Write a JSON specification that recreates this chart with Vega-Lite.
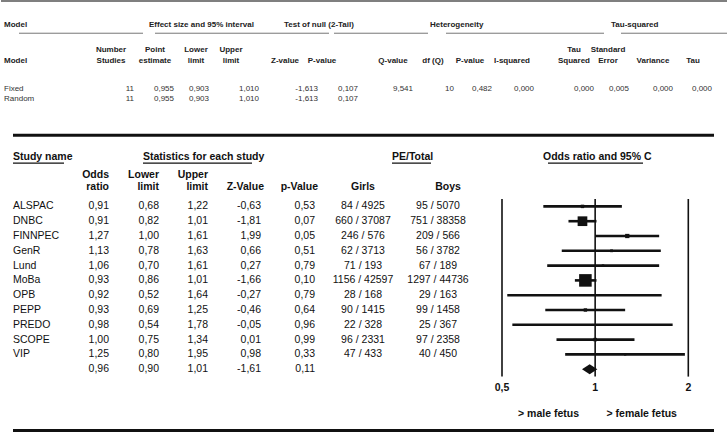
{
  "$schema": "https://vega.github.io/schema/vega-lite/v6.json",
  "padding": 0,
  "spacing": 0,
  "bounds": "flush",
  "config": {
    "view": {"stroke": null},
    "axis": {"disable": true},
    "text": {"font": "Liberation Sans"},
    "locale": {"number": {"decimal": ",", "thousands": ".", "grouping": [3], "currency": ["", ""], "minus": "-"}}
  },
  "datasets": {
    "overall": [
      {"model": "Fixed", "n": 11, "pe": 0.955, "ll": 0.903, "ul": 1.010, "z": -1.613, "p": 0.107, "q": 9.541, "df": 10, "pq": 0.482, "i2": 0.000, "tau2": 0.000, "se": 0.005, "var": 0.000, "tau": 0.000},
      {"model": "Random", "n": 11, "pe": 0.955, "ll": 0.903, "ul": 1.010, "z": -1.613, "p": 0.107}
    ],
    "overallCols": [
      {"key": "model", "c": 0, "l1": "", "l2": "Model"},
      {"key": "n", "c": 1, "l1": "Number", "l2": "Studies"},
      {"key": "pe", "c": 2, "l1": "Point", "l2": "estimate"},
      {"key": "ll", "c": 3, "l1": "Lower", "l2": "limit"},
      {"key": "ul", "c": 4, "l1": "Upper", "l2": "limit"},
      {"key": "z", "c": 5, "l1": "", "l2": "Z-value"},
      {"key": "p", "c": 6, "l1": "", "l2": "P-value"},
      {"key": "q", "c": 7, "l1": "", "l2": "Q-value"},
      {"key": "df", "c": 8, "l1": "", "l2": "df (Q)"},
      {"key": "pq", "c": 9, "l1": "", "l2": "P-value"},
      {"key": "i2", "c": 10, "l1": "", "l2": "I-squared"},
      {"key": "tau2", "c": 11, "l1": "Tau", "l2": "Squared"},
      {"key": "se", "c": 12, "l1": "Standard", "l2": "Error"},
      {"key": "var", "c": 13, "l1": "", "l2": "Variance"},
      {"key": "tau", "c": 14, "l1": "", "l2": "Tau"}
    ],
    "overallGroups": [
      {"label": "Model", "g": 0, "from": 0, "to": 1},
      {"label": "Effect size and 95% interval", "g": 1, "from": 2, "to": 3},
      {"label": "Test of null (2-Tail)", "g": 2, "from": 4, "to": 5},
      {"label": "Heterogeneity", "g": 3, "from": 6, "to": 7},
      {"label": "Tau-squared", "g": 4, "from": 8, "to": 9}
    ],
    "studies": [
      {"study": "ALSPAC", "type": "study", "or": 0.91, "ll": 0.68, "ul": 1.22, "z": -0.63, "p": 0.53, "girls": "84 / 4925", "boys": "95 / 5070", "weight": 3.6},
      {"study": "DNBC", "type": "study", "or": 0.91, "ll": 0.82, "ul": 1.01, "z": -1.81, "p": 0.07, "girls": "660 / 37087", "boys": "751 / 38358", "weight": 28.5},
      {"study": "FINNPEC", "type": "study", "or": 1.27, "ll": 1.00, "ul": 1.61, "z": 1.99, "p": 0.05, "girls": "246 / 576", "boys": "209 / 566", "weight": 5.5},
      {"study": "GenR", "type": "study", "or": 1.13, "ll": 0.78, "ul": 1.63, "z": 0.66, "p": 0.51, "girls": "62 / 3713", "boys": "56 / 3782", "weight": 2.3},
      {"study": "Lund", "type": "study", "or": 1.06, "ll": 0.70, "ul": 1.61, "z": 0.27, "p": 0.79, "girls": "71 / 193", "boys": "67 / 189", "weight": 1.8},
      {"study": "MoBa", "type": "study", "or": 0.93, "ll": 0.86, "ul": 1.01, "z": -1.66, "p": 0.10, "girls": "1156 / 42597", "boys": "1297 / 44736", "weight": 47.8},
      {"study": "OPB", "type": "study", "or": 0.92, "ll": 0.52, "ul": 1.64, "z": -0.27, "p": 0.79, "girls": "28 / 168", "boys": "29 / 163", "weight": 0.9},
      {"study": "PEPP", "type": "study", "or": 0.93, "ll": 0.69, "ul": 1.25, "z": -0.46, "p": 0.64, "girls": "90 / 1415", "boys": "99 / 1458", "weight": 3.5},
      {"study": "PREDO", "type": "study", "or": 0.98, "ll": 0.54, "ul": 1.78, "z": -0.05, "p": 0.96, "girls": "22 / 328", "boys": "25 / 367", "weight": 0.9},
      {"study": "SCOPE", "type": "study", "or": 1.00, "ll": 0.75, "ul": 1.34, "z": 0.01, "p": 0.99, "girls": "96 / 2331", "boys": "97 / 2358", "weight": 3.7},
      {"study": "VIP", "type": "study", "or": 1.25, "ll": 0.80, "ul": 1.95, "z": 0.98, "p": 0.33, "girls": "47 / 433", "boys": "40 / 450", "weight": 1.6},
      {"study": "Overall", "type": "pooled", "or": 0.96, "ll": 0.90, "ul": 1.01, "z": -1.61, "p": 0.11}
    ],
    "studyCols": [
      {"key": "or", "c": 1, "l1": "Odds", "l2": "ratio"},
      {"key": "ll", "c": 2, "l1": "Lower", "l2": "limit"},
      {"key": "ul", "c": 3, "l1": "Upper", "l2": "limit"},
      {"key": "z", "c": 4, "l1": "", "l2": "Z-Value"},
      {"key": "p", "c": 5, "l1": "", "l2": "p-Value"},
      {"key": "girls", "c": 6, "l1": "", "l2": "Girls"},
      {"key": "boys", "c": 7, "l1": "", "l2": "Boys"}
    ],
    "studyGroups": [
      {"label": "Study name", "g": 0, "from": 0, "to": 1},
      {"label": "Statistics for each study", "g": 1, "from": 2, "to": 3},
      {"label": "PE/Total", "g": 2, "from": 4, "to": 5},
      {"label": "Odds ratio and 95% C", "g": 3, "from": 6, "to": 7}
    ],
    "refs": [{"v": 0.5}, {"v": 1}, {"v": 2}],
    "sides": [{"label": "> male fetus", "at": 0.7071}, {"label": "> female fetus", "at": 1.4142}]
  },
  "vconcat": [
    {
      "width": 727,
      "height": 124.6,
      "layer": [
        {
          "data": {"values": [{}]},
          "mark": {"type": "rule", "color": "#555555", "strokeWidth": 1.5},
          "encoding": {
            "y": {"datum": "line", "type": "nominal", "bandPosition": 0.1, "scale": {"type": "band", "domain": ["line","a1","group","uline","h1","h2","a6","a7","Fixed","Random","a10","a11"], "paddingInner": 0, "paddingOuter": 0}}
          }
        },
        {
          "layer": [
            {
              "data": {"name": "overall"},
              "mark": {"type": "text", "align": "left", "fontSize": 8, "color": "#333333"},
              "encoding": {
                "x": {"datum": 0, "type": "quantitative", "scale": {"domain": [0,1,2,3,4,5,6,7,8,9,10,11,12,13,14], "range": [3,133,173,208,258,317,357,412,453,491,533,593,628,672,711], "zero": false, "nice": false}},
                "y": {"field": "model", "type": "nominal", "bandPosition": 0.55, "scale": {"type": "band", "domain": ["line","a1","group","uline","h1","h2","a6","a7","Fixed","Random","a10","a11"], "paddingInner": 0, "paddingOuter": 0}},
                "text": {"field": "model"}
              }
            },
            {
              "data": {"name": "overall"},
              "transform": [
                {"fold": ["pe","ll","ul","z","p","q","pq","i2","tau2","se","var","tau"], "as": ["key","value"]},
                {"filter": "isValid(datum.value)"},
                {"lookup": "key", "from": {"data": {"name": "overallCols"}, "key": "key", "fields": ["c"]}}
              ],
              "mark": {"type": "text", "align": "right", "fontSize": 8, "color": "#333333"},
              "encoding": {
                "x": {"field": "c", "type": "quantitative", "scale": {"domain": [0,1,2,3,4,5,6,7,8,9,10,11,12,13,14], "range": [3,133,173,208,258,317,357,412,453,491,533,593,628,672,711], "zero": false, "nice": false}},
                "y": {"field": "model", "type": "nominal", "bandPosition": 0.55, "scale": {"type": "band", "domain": ["line","a1","group","uline","h1","h2","a6","a7","Fixed","Random","a10","a11"], "paddingInner": 0, "paddingOuter": 0}},
                "text": {"field": "value", "type": "quantitative", "format": ".3f"}
              }
            },
            {
              "data": {"name": "overall"},
              "transform": [
                {"fold": ["n","df"], "as": ["key","value"]},
                {"filter": "isValid(datum.value)"},
                {"lookup": "key", "from": {"data": {"name": "overallCols"}, "key": "key", "fields": ["c"]}}
              ],
              "mark": {"type": "text", "align": "right", "fontSize": 8, "color": "#333333"},
              "encoding": {
                "x": {"field": "c", "type": "quantitative", "scale": {"domain": [0,1,2,3,4,5,6,7,8,9,10,11,12,13,14], "range": [3,133,173,208,258,317,357,412,453,491,533,593,628,672,711], "zero": false, "nice": false}},
                "y": {"field": "model", "type": "nominal", "bandPosition": 0.55, "scale": {"type": "band", "domain": ["line","a1","group","uline","h1","h2","a6","a7","Fixed","Random","a10","a11"], "paddingInner": 0, "paddingOuter": 0}},
                "text": {"field": "value", "type": "quantitative", "format": "d"}
              }
            }
          ]
        },
        {
          "data": {"name": "overallCols"},
          "layer": [
            {
              "transform": [{"filter": "datum.l1 != ''"}],
              "mark": {"type": "text", "align": "center", "fontSize": 8, "fontWeight": "bold", "color": "#222222"},
              "encoding": {
                "x": {"field": "c", "type": "quantitative", "scale": {"domain": [0,1,2,3,4,5,6,7,8,9,10,11,12,13,14], "range": [3,110,154,195,230,284,321,392,432,469,511,573,607,652,692], "zero": false, "nice": false}},
                "y": {"datum": "h1", "type": "nominal", "bandPosition": 0.82, "scale": {"type": "band", "domain": ["line","a1","group","uline","h1","h2","a6","a7","Fixed","Random","a10","a11"], "paddingInner": 0, "paddingOuter": 0}},
                "text": {"field": "l1"}
              }
            },
            {
              "transform": [{"filter": "datum.c > 0"}],
              "mark": {"type": "text", "align": "center", "fontSize": 8, "fontWeight": "bold", "color": "#222222"},
              "encoding": {
                "x": {"field": "c", "type": "quantitative", "scale": {"domain": [0,1,2,3,4,5,6,7,8,9,10,11,12,13,14], "range": [3,110,154,195,230,284,321,392,432,469,511,573,607,652,692], "zero": false, "nice": false}},
                "y": {"datum": "h2", "type": "nominal", "bandPosition": 0.87, "scale": {"type": "band", "domain": ["line","a1","group","uline","h1","h2","a6","a7","Fixed","Random","a10","a11"], "paddingInner": 0, "paddingOuter": 0}},
                "text": {"field": "l2"}
              }
            },
            {
              "transform": [{"filter": "datum.c == 0"}],
              "mark": {"type": "text", "align": "left", "fontSize": 8, "fontWeight": "bold", "color": "#222222"},
              "encoding": {
                "x": {"field": "c", "type": "quantitative", "scale": {"domain": [0,1,2,3,4,5,6,7,8,9,10,11,12,13,14], "range": [3,110,154,195,230,284,321,392,432,469,511,573,607,652,692], "zero": false, "nice": false}},
                "y": {"datum": "h2", "type": "nominal", "bandPosition": 0.87, "scale": {"type": "band", "domain": ["line","a1","group","uline","h1","h2","a6","a7","Fixed","Random","a10","a11"], "paddingInner": 0, "paddingOuter": 0}},
                "text": {"field": "l2"}
              }
            }
          ]
        },
        {
          "data": {"name": "overallGroups"},
          "mark": {"type": "text", "align": "left", "fontSize": 8, "fontWeight": "bold", "color": "#222222"},
          "encoding": {
            "x": {"field": "g", "type": "quantitative", "scale": {"domain": [0,1,2,3,4], "range": [3,148,283,429,610], "zero": false, "nice": false}},
            "y": {"datum": "group", "type": "nominal", "bandPosition": 0.41, "scale": {"type": "band", "domain": ["line","a1","group","uline","h1","h2","a6","a7","Fixed","Random","a10","a11"], "paddingInner": 0, "paddingOuter": 0}},
            "text": {"field": "label"}
          }
        },
        {
          "data": {"name": "overallGroups"},
          "mark": {"type": "rule", "color": "#777777", "strokeWidth": 1},
          "encoding": {
            "x": {"field": "from", "type": "quantitative", "scale": {"domain": [0,1,2,3,4,5,6,7,8,9], "range": [18,142,154,328,333,427,445,603,620,727], "zero": false, "nice": false}},
            "x2": {"field": "to"},
            "y": {"datum": "uline", "type": "nominal", "bandPosition": 0.2, "scale": {"type": "band", "domain": ["line","a1","group","uline","h1","h2","a6","a7","Fixed","Random","a10","a11"], "paddingInner": 0, "paddingOuter": 0}}
          }
        }
      ],
      "resolve": {"scale": {"x": "independent"}}
    },
    {
      "width": 727,
      "height": 296,
      "layer": [
        {
          "data": {"values": [{}]},
          "layer": [
            {
              "mark": {"type": "rule", "color": "#111111", "strokeWidth": 3},
              "encoding": {
                "x": {"datum": 0, "type": "quantitative", "scale": {"domain": [0, 1], "range": [12, 713], "zero": false, "nice": false}},
                "x2": {"datum": 1},
                "y": {"datum": "top", "type": "nominal", "bandPosition": 0.7, "scale": {"type": "band", "domain": ["top","s1","grp","h1","h2","ALSPAC","DNBC","FINNPEC","GenR","Lund","MoBa","OPB","PEPP","PREDO","SCOPE","VIP","Overall","ax","s18","lab"], "paddingInner": 0, "paddingOuter": 0}}
              }
            },
            {
              "mark": {"type": "rule", "color": "#111111", "strokeWidth": 3},
              "encoding": {
                "x": {"datum": 0, "type": "quantitative", "scale": {"domain": [0, 1], "range": [12, 713], "zero": false, "nice": false}},
                "x2": {"datum": 1},
                "y": {"datum": "lab", "type": "nominal", "bandPosition": 1.64, "scale": {"type": "band", "domain": ["top","s1","grp","h1","h2","ALSPAC","DNBC","FINNPEC","GenR","Lund","MoBa","OPB","PEPP","PREDO","SCOPE","VIP","Overall","ax","s18","lab"], "paddingInner": 0, "paddingOuter": 0}}
              }
            }
          ]
        },
        {
          "data": {"name": "studyGroups"},
          "mark": {"type": "text", "align": "left", "fontSize": 10.5, "fontWeight": "bold", "color": "#111111"},
          "encoding": {
            "x": {"field": "g", "type": "quantitative", "scale": {"domain": [0,1,2,3], "range": [12,142,391,542], "zero": false, "nice": false}},
            "y": {"datum": "grp", "type": "nominal", "bandPosition": 0.19, "scale": {"type": "band", "domain": ["top","s1","grp","h1","h2","ALSPAC","DNBC","FINNPEC","GenR","Lund","MoBa","OPB","PEPP","PREDO","SCOPE","VIP","Overall","ax","s18","lab"], "paddingInner": 0, "paddingOuter": 0}},
            "text": {"field": "label"}
          }
        },
        {
          "data": {"name": "studyGroups"},
          "mark": {"type": "rule", "color": "#111111", "strokeWidth": 1.2},
          "encoding": {
            "x": {"field": "from", "type": "quantitative", "scale": {"domain": [0,1,2,3,4,5,6,7], "range": [12,63,142,251,391,430,547,642], "zero": false, "nice": false}},
            "x2": {"field": "to"},
            "y": {"datum": "grp", "type": "nominal", "bandPosition": 0.57, "scale": {"type": "band", "domain": ["top","s1","grp","h1","h2","ALSPAC","DNBC","FINNPEC","GenR","Lund","MoBa","OPB","PEPP","PREDO","SCOPE","VIP","Overall","ax","s18","lab"], "paddingInner": 0, "paddingOuter": 0}}
          }
        },
        {
          "data": {"name": "studyCols"},
          "layer": [
            {
              "transform": [{"filter": "datum.l1 != ''"}],
              "mark": {"type": "text", "align": "right", "fontSize": 10.5, "fontWeight": "bold", "color": "#111111"},
              "encoding": {
                "x": {"field": "c", "type": "quantitative", "scale": {"domain": [0,1,2,3,4,5,6,7], "range": [12,108,158,207,263,317,362,447], "zero": false, "nice": false}},
                "y": {"datum": "h1", "type": "nominal", "bandPosition": 0.41, "scale": {"type": "band", "domain": ["top","s1","grp","h1","h2","ALSPAC","DNBC","FINNPEC","GenR","Lund","MoBa","OPB","PEPP","PREDO","SCOPE","VIP","Overall","ax","s18","lab"], "paddingInner": 0, "paddingOuter": 0}},
                "text": {"field": "l1"}
              }
            },
            {
              "transform": [{"filter": "datum.c <= 5"}],
              "mark": {"type": "text", "align": "right", "fontSize": 10.5, "fontWeight": "bold", "color": "#111111"},
              "encoding": {
                "x": {"field": "c", "type": "quantitative", "scale": {"domain": [0,1,2,3,4,5,6,7], "range": [12,108,158,207,263,317,362,447], "zero": false, "nice": false}},
                "y": {"datum": "h2", "type": "nominal", "bandPosition": 0.22, "scale": {"type": "band", "domain": ["top","s1","grp","h1","h2","ALSPAC","DNBC","FINNPEC","GenR","Lund","MoBa","OPB","PEPP","PREDO","SCOPE","VIP","Overall","ax","s18","lab"], "paddingInner": 0, "paddingOuter": 0}},
                "text": {"field": "l2"}
              }
            },
            {
              "transform": [{"filter": "datum.c >= 6"}],
              "mark": {"type": "text", "align": "center", "fontSize": 10.5, "fontWeight": "bold", "color": "#111111"},
              "encoding": {
                "x": {"field": "c", "type": "quantitative", "scale": {"domain": [0,1,2,3,4,5,6,7], "range": [12,108,158,207,263,317,362,447], "zero": false, "nice": false}},
                "y": {"datum": "h2", "type": "nominal", "bandPosition": 0.22, "scale": {"type": "band", "domain": ["top","s1","grp","h1","h2","ALSPAC","DNBC","FINNPEC","GenR","Lund","MoBa","OPB","PEPP","PREDO","SCOPE","VIP","Overall","ax","s18","lab"], "paddingInner": 0, "paddingOuter": 0}},
                "text": {"field": "l2"}
              }
            }
          ]
        },
        {
          "data": {"name": "studies"},
          "layer": [
            {
              "transform": [{"filter": "datum.type == 'study'"}],
              "mark": {"type": "text", "align": "left", "fontSize": 10.5, "color": "#111111"},
              "encoding": {
                "x": {"datum": 0, "type": "quantitative", "scale": {"domain": [0,1,2,3,4,5,6,7], "range": [12,108,158,207,260,314,362,437], "zero": false, "nice": false}},
                "y": {"field": "study", "type": "nominal", "bandPosition": 0.5, "scale": {"type": "band", "domain": ["top","s1","grp","h1","h2","ALSPAC","DNBC","FINNPEC","GenR","Lund","MoBa","OPB","PEPP","PREDO","SCOPE","VIP","Overall","ax","s18","lab"], "paddingInner": 0, "paddingOuter": 0}},
                "text": {"field": "study"}
              }
            },
            {
              "transform": [
                {"fold": ["or","ll","ul","z","p"], "as": ["key","value"]},
                {"lookup": "key", "from": {"data": {"name": "studyCols"}, "key": "key", "fields": ["c"]}}
              ],
              "mark": {"type": "text", "align": "right", "fontSize": 10.5, "color": "#111111"},
              "encoding": {
                "x": {"field": "c", "type": "quantitative", "scale": {"domain": [0,1,2,3,4,5,6,7], "range": [12,108,158,207,260,314,362,437], "zero": false, "nice": false}},
                "y": {"field": "study", "type": "nominal", "bandPosition": 0.5, "scale": {"type": "band", "domain": ["top","s1","grp","h1","h2","ALSPAC","DNBC","FINNPEC","GenR","Lund","MoBa","OPB","PEPP","PREDO","SCOPE","VIP","Overall","ax","s18","lab"], "paddingInner": 0, "paddingOuter": 0}},
                "text": {"field": "value", "type": "quantitative", "format": ".2f"}
              }
            },
            {
              "transform": [
                {"fold": ["girls","boys"], "as": ["key","value"]},
                {"filter": "isValid(datum.value)"},
                {"lookup": "key", "from": {"data": {"name": "studyCols"}, "key": "key", "fields": ["c"]}}
              ],
              "mark": {"type": "text", "align": "center", "fontSize": 10.5, "color": "#111111"},
              "encoding": {
                "x": {"field": "c", "type": "quantitative", "scale": {"domain": [0,1,2,3,4,5,6,7], "range": [12,108,158,207,260,314,362,437], "zero": false, "nice": false}},
                "y": {"field": "study", "type": "nominal", "bandPosition": 0.5, "scale": {"type": "band", "domain": ["top","s1","grp","h1","h2","ALSPAC","DNBC","FINNPEC","GenR","Lund","MoBa","OPB","PEPP","PREDO","SCOPE","VIP","Overall","ax","s18","lab"], "paddingInner": 0, "paddingOuter": 0}},
                "text": {"field": "value", "type": "nominal"}
              }
            }
          ]
        },
        {
          "layer": [
            {
              "data": {"name": "refs"},
              "mark": {"type": "rule", "color": "#111111", "strokeWidth": 1.6},
              "encoding": {
                "x": {"field": "v", "type": "quantitative", "scale": {"type": "log", "domain": [0.5, 2], "range": [501, 687.3], "nice": false}},
                "y": {"datum": "ALSPAC", "type": "nominal", "bandPosition": 0, "scale": {"type": "band", "domain": ["top","s1","grp","h1","h2","ALSPAC","DNBC","FINNPEC","GenR","Lund","MoBa","OPB","PEPP","PREDO","SCOPE","VIP","Overall","ax","s18","lab"], "paddingInner": 0, "paddingOuter": 0}},
                "y2": {"datum": "ax", "bandPosition": 0}
              }
            },
            {
              "data": {"name": "studies"},
              "transform": [{"filter": "datum.type == 'study'"}],
              "mark": {"type": "rule", "color": "#111111", "strokeWidth": 2.6},
              "encoding": {
                "x": {"field": "ll", "type": "quantitative", "scale": {"type": "log", "domain": [0.5, 2], "range": [501, 687.3], "nice": false}},
                "x2": {"field": "ul"},
                "y": {"field": "study", "type": "nominal", "bandPosition": 0.5, "scale": {"type": "band", "domain": ["top","s1","grp","h1","h2","ALSPAC","DNBC","FINNPEC","GenR","Lund","MoBa","OPB","PEPP","PREDO","SCOPE","VIP","Overall","ax","s18","lab"], "paddingInner": 0, "paddingOuter": 0}}
              }
            },
            {
              "data": {"name": "studies"},
              "transform": [{"filter": "datum.type == 'study'"}],
              "mark": {"type": "point", "shape": "square", "filled": true, "color": "#111111", "opacity": 1},
              "encoding": {
                "x": {"field": "or", "type": "quantitative", "scale": {"type": "log", "domain": [0.5, 2], "range": [501, 687.3], "nice": false}},
                "y": {"field": "study", "type": "nominal", "bandPosition": 0.5, "scale": {"type": "band", "domain": ["top","s1","grp","h1","h2","ALSPAC","DNBC","FINNPEC","GenR","Lund","MoBa","OPB","PEPP","PREDO","SCOPE","VIP","Overall","ax","s18","lab"], "paddingInner": 0, "paddingOuter": 0}},
                "size": {"field": "weight", "type": "quantitative", "scale": {"type": "linear", "domain": [0, 50], "range": [0, 165]}, "legend": null}
              }
            },
            {
              "data": {"name": "studies"},
              "transform": [{"filter": "datum.type == 'pooled'"}],
              "mark": {"type": "point", "shape": "M-1,0L0,-0.65L1,0L0,0.65Z", "filled": true, "color": "#111111", "opacity": 1, "size": 236},
              "encoding": {
                "x": {"field": "or", "type": "quantitative", "scale": {"type": "log", "domain": [0.5, 2], "range": [501, 687.3], "nice": false}},
                "y": {"field": "study", "type": "nominal", "bandPosition": 0.5, "scale": {"type": "band", "domain": ["top","s1","grp","h1","h2","ALSPAC","DNBC","FINNPEC","GenR","Lund","MoBa","OPB","PEPP","PREDO","SCOPE","VIP","Overall","ax","s18","lab"], "paddingInner": 0, "paddingOuter": 0}}
              }
            },
            {
              "data": {"name": "refs"},
              "mark": {"type": "text", "align": "center", "fontSize": 10.5, "fontWeight": "bold", "color": "#111111"},
              "encoding": {
                "x": {"field": "v", "type": "quantitative", "scale": {"type": "log", "domain": [0.5, 2], "range": [501, 687.3], "nice": false}},
                "y": {"datum": "ax", "type": "nominal", "bandPosition": 0.8, "scale": {"type": "band", "domain": ["top","s1","grp","h1","h2","ALSPAC","DNBC","FINNPEC","GenR","Lund","MoBa","OPB","PEPP","PREDO","SCOPE","VIP","Overall","ax","s18","lab"], "paddingInner": 0, "paddingOuter": 0}},
                "text": {"field": "v", "type": "quantitative", "format": ".2~f"}
              }
            },
            {
              "data": {"name": "sides"},
              "mark": {"type": "text", "align": "center", "fontSize": 10.5, "fontWeight": "bold", "color": "#111111"},
              "encoding": {
                "x": {"field": "at", "type": "quantitative", "scale": {"type": "log", "domain": [0.5, 2], "range": [501, 687.3], "nice": false}},
                "y": {"datum": "lab", "type": "nominal", "bandPosition": 0.55, "scale": {"type": "band", "domain": ["top","s1","grp","h1","h2","ALSPAC","DNBC","FINNPEC","GenR","Lund","MoBa","OPB","PEPP","PREDO","SCOPE","VIP","Overall","ax","s18","lab"], "paddingInner": 0, "paddingOuter": 0}},
                "text": {"field": "label"}
              }
            }
          ]
        }
      ],
      "resolve": {"scale": {"x": "independent"}}
    }
  ]
}
